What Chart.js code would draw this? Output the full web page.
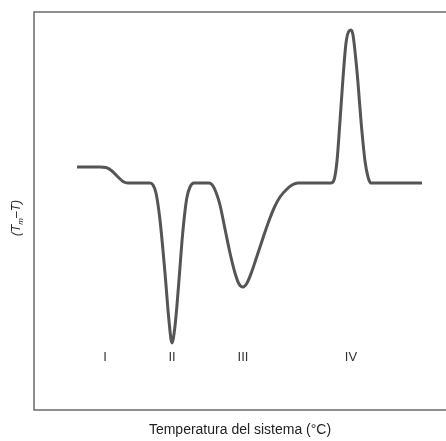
<!DOCTYPE html>
<html>
<head>
<meta charset="utf-8">
<script src="https://cdn.jsdelivr.net/npm/chart.js@4/dist/chart.umd.min.js"></script>
<style>
    html, body { margin: 0; padding: 0; background: #fff; }
    #dta-chart { display: block; }
</style>
</head>
<body>
<canvas id="dta-chart" width="446" height="441"></canvas>
<script>
// Curva DTA ========================================================
const TEMPS = [
    77, 100, 106, 112, 118, 123, 128,
    150, 153, 156, 160, 165, 169, 172, 175, 177, 180, 182, 185, 187, 190, 194,
    209, 213, 217, 220, 225, 230, 235, 239, 243, 247, 252, 256, 260, 265, 270, 275, 280, 287, 292, 298,
    331, 334, 337, 340, 343, 346, 349, 351, 353, 356, 358, 361, 365, 368, 371,
    422
];
const SIGNAL = [
    16, 16, 15.5, 12, 6, 1.5, 0,
    0, -2, -10, -37, -90, -138, -160, -143, -122, -84, -58, -28, -14, -4, 0,
    0, -3, -12, -22, -46, -70, -90, -101, -104, -100, -88, -76, -64, -49, -35, -23, -14, -6, -2, 0,
    0, 3, 22, 62, 105, 140, 152, 153, 148, 122, 100, 62, 22, 6, 0,
    0
];
const PHASES  = ["I", "II", "III", "IV"];
const PHASE_T = [105, 172, 243, 351];
const PHASE_Y = -174;

const X_LABEL = "Temperatura del sistema (°C)";

// ejes y marco
const framePlugin = {
    id: 'frame',
    afterDraw(chart) {
        const ctx = chart.ctx;
        const a = chart.chartArea;
        const xs = chart.scales.x;
        const ys = chart.scales.y;
        ctx.save();
        ctx.strokeStyle = '#6a6a6a';
        ctx.lineWidth = 1.5;
        ctx.beginPath();
        ctx.moveTo(chart.width, a.top);
        ctx.lineTo(a.left, a.top);
        ctx.lineTo(a.left, a.bottom);
        ctx.lineTo(chart.width, a.bottom);
        ctx.stroke();

        // números romanos
        ctx.fillStyle = '#333';
        ctx.font = '13px "Liberation Sans", Arial, sans-serif';
        ctx.textAlign = 'center';
        ctx.textBaseline = 'middle';
        for (let i = 0; i < PHASES.length; i++) {
            ctx.fillText(PHASES[i], xs.getPixelForValue(PHASE_T[i]), ys.getPixelForValue(PHASE_Y));
        }

        // título eje x
        ctx.fillStyle = '#222';
        ctx.font = '14px "Liberation Sans", Arial, sans-serif';
        ctx.fillText(X_LABEL, (a.left + a.right) / 2, a.bottom + 20);

        // título eje y: (Tm-T)
        ctx.translate(17, (a.top + a.bottom) / 2 + 7);
        ctx.rotate(-Math.PI / 2);
        ctx.textAlign = 'left';
        const big = 'italic 12px "Liberation Sans", Arial, sans-serif';
        const small = 'italic 8px "Liberation Sans", Arial, sans-serif';
        const p1 = "(T", p3 = "\u2013T)";
        ctx.font = small;
        const wm = ctx.measureText("m").width;
        ctx.font = big;
        const w1 = ctx.measureText(p1).width;
        const w3 = ctx.measureText(p3).width;
        let x0 = -(w1 + wm + w3) / 2;
        ctx.fillText(p1, x0, 0);
        ctx.font = small;
        ctx.fillText("m", x0 + w1, 4);
        ctx.font = big;
        ctx.fillText(p3, x0 + w1 + wm, 0);
        ctx.restore();
    }
};

const points = [];
for (let i = 0; i < TEMPS.length; i++) {
    points.push({ x: TEMPS[i], y: SIGNAL[i] });
}

const config = {
    type: 'line',
    data: {
        datasets: [
            {
                label: '(Tm-T)',
                data: points,
                borderColor: '#555555',
                borderWidth: 3,
                pointRadius: 0,
                cubicInterpolationMode: 'monotone',
                fill: false,
            }
        ]
    },
    options: {
        responsive: false,
        animation: false,
        layout: {
            padding: { left: 34, top: 12, right: 0, bottom: 31 }
        },
        plugins: {
            legend: { display: false },
            tooltip: { enabled: false },
        },
        scales: {
            x: { type: 'linear', min: 34, max: 446, display: false },
            y: { min: -227, max: 171, display: false },
        }
    },
    plugins: [framePlugin]
};

new Chart(document.getElementById("dta-chart"), config);
</script>
</body>
</html>
